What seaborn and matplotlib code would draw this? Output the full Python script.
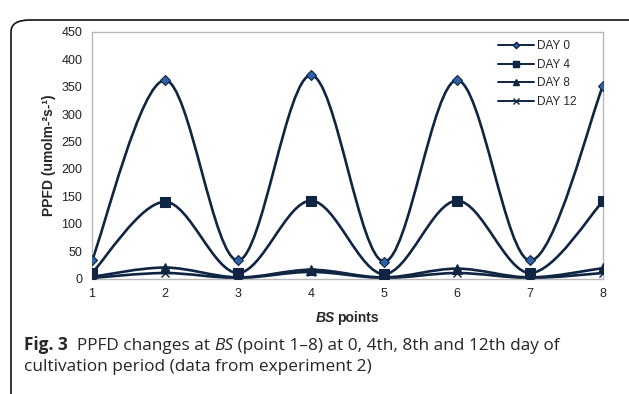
import numpy as np
import pandas as pd
import seaborn as sns
import matplotlib.pyplot as plt
from matplotlib.path import Path
from matplotlib.patches import PathPatch, FancyBboxPatch
from matplotlib.lines import Line2D

# PPFD at BS points 1-8 for each cultivation day
points = [1, 2, 3, 4, 5, 6, 7, 8]
day0 = [33, 362, 33, 371, 31, 362, 33, 352]
day4 = [10, 140, 10, 142, 8, 142, 10, 141]
day8 = [3, 20, 2, 16, 2, 18, 2, 19]
day12 = [1, 10, 1, 12, 1, 10, 1, 10]
series_names = ['DAY 0', 'DAY 4', 'DAY 8', 'DAY 12']
yticks = [0, 50, 100, 150, 200, 250, 300, 350, 400, 450]

navy = '#0f2542'

sns.set_style('white')
plt.rcParams['font.family'] = ['Liberation Sans', 'DejaVu Sans']

fig = plt.figure(figsize=(6.29, 3.94), dpi=100)
ax = fig.add_axes([92 / 629, 1 - 278.5 / 394, (603 - 92) / 629, (278.5 - 32) / 394])


def smooth_path(xs, ys):
    # Excel-style smoothed line (Catmull-Rom as cubic Bezier)
    P = np.column_stack([xs, ys]).astype(float)
    verts = [P[0]]
    codes = [Path.MOVETO]
    n = len(P)
    for i in range(n - 1):
        p0 = P[i - 1] if i > 0 else P[i]
        p1, p2 = P[i], P[i + 1]
        p3 = P[i + 2] if i + 2 < n else P[i + 1]
        verts += [p1 + (p2 - p0) / 6, p2 - (p3 - p1) / 6, p2]
        codes += [Path.CURVE4] * 3
    return Path(verts, codes)


styles = [
    dict(marker='D', ms=5, mfc='#2f62a8', mec=navy, mew=0.8),
    dict(marker='s', ms=7, mfc=navy, mec=navy, mew=0.8),
    dict(marker='^', ms=7, mfc=navy, mec=navy, mew=0.8),
    dict(marker='x', ms=6, mfc=navy, mec=navy, mew=1.0),
]

df = pd.DataFrame({'point': points, 'DAY 0': day0, 'DAY 4': day4,
                   'DAY 8': day8, 'DAY 12': day12})

handles = []
for name, st in zip(series_names, styles):
    ax.add_patch(PathPatch(smooth_path(df['point'], df[name]), fc='none',
                           ec=navy, lw=1.9, zorder=2))
    sns.lineplot(x='point', y=name, data=df, ax=ax, linestyle='none',
                 marker=st['marker'], markersize=st['ms'],
                 markerfacecolor=st['mfc'], markeredgecolor=st['mec'],
                 markeredgewidth=st['mew'], color=navy, zorder=3)
    handles.append(Line2D([], [], color=navy, lw=1.4, marker=st['marker'],
                          markersize=st['ms'] * 0.65, markerfacecolor=st['mfc'],
                          markeredgecolor=st['mec'], label=name))

ax.set_xlim(1, 8)
ax.set_ylim(0, 450)
ax.set_xticks(points)
ax.set_yticks(yticks)
ax.tick_params(axis='both', labelsize=9, colors='#222222', length=3,
               width=0.8, color='#b0b0b0', pad=4)
for s in ax.spines.values():
    s.set_color('#b8b8b8')
    s.set_linewidth(1.0)

ax.set_ylabel('PPFD (umolm-²s-¹)', fontsize=10, fontweight='bold', labelpad=4)
ax.set_xlabel('')

leg = ax.legend(handles=handles, loc='upper right', frameon=False, fontsize=8.5,
                handlelength=3.0, handletextpad=0.3, labelspacing=0.55,
                borderaxespad=0.3, bbox_to_anchor=(0.965, 1.0))

fig.canvas.draw()
renderer = fig.canvas.get_renderer()

# x-axis label: "BS points" with BS bold italic
t1 = fig.text(0, 1 - 318 / 394, 'BS', fontsize=10, fontweight='bold',
              fontstyle='italic', ha='left', va='center')
t2 = fig.text(0, 1 - 318 / 394, 'points', fontsize=10, fontweight='bold',
              ha='left', va='center')
w1 = t1.get_window_extent(renderer).width
w2 = t2.get_window_extent(renderer).width
x0 = 0.5 * (92 + 603) - (w1 + 2 + w2) / 2
t1.set_x(x0 / 629)
t2.set_x((x0 + w1 + 2) / 629)

# caption built piecewise
cap = ['Open Sans', 'DejaVu Sans']


def put(x, y, s, **kw):
    t = fig.text(x / 629, 1 - y / 394, s, fontsize=12.4, family=cap,
                 va='baseline', ha='left', **kw)
    bb = t.get_window_extent(renderer)
    return x + bb.width


x = put(24, 350, 'Fig. 3', fontweight='bold')
x = put(x, 350, '  PPFD changes at ')
x = put(x, 350, 'BS', fontstyle='italic')
x = put(x, 350, ' (point 1–8) at 0, 4th, 8th and 12th day of')
put(24, 371, 'cultivation period (data from experiment 2)')

# rounded frame around figure
frame = FancyBboxPatch((11 / 629, -20 / 394), 650 / 629, (394 - 10 + 20 - 10) / 394,
                       boxstyle='round,pad=0,rounding_size=0.03',
                       transform=fig.transFigure, fc='none', ec='#111111',
                       lw=1.2, clip_on=False)
fig.patches.append(frame)

fig.savefig('out.png', dpi=100)
